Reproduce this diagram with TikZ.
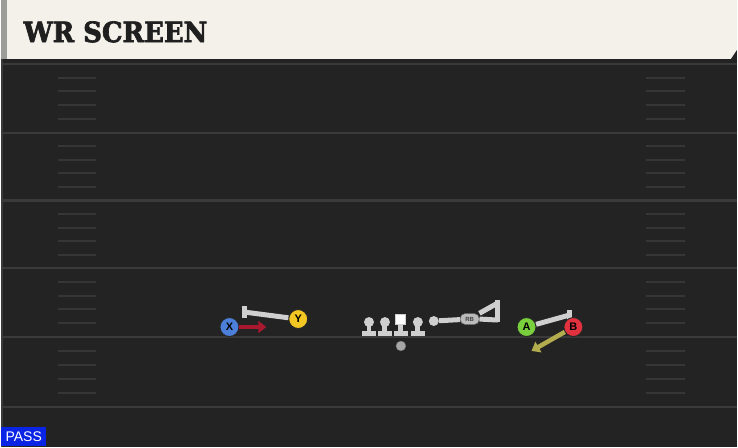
\documentclass[tikz,border=0pt]{standalone}
\usepackage{fontspec}
\setsansfont{Liberation Sans}
\newfontfamily\titlefont{DejaVu Serif}[BoldFeatures={FakeBold=2.5}]
\usetikzlibrary{arrows.meta,positioning}
\definecolor{field}{HTML}{232323}
\definecolor{fieldline}{HTML}{3A3A3A}
\definecolor{hashline}{HTML}{363636}
\definecolor{header}{HTML}{F4F1EA}
\definecolor{headeredge}{HTML}{9C9C98}
\definecolor{routegray}{HTML}{CFCFCF}
\definecolor{xblue}{HTML}{4C7FD9}
\definecolor{yyellow}{HTML}{F2C623}
\definecolor{agreen}{HTML}{79CF3C}
\definecolor{bred}{HTML}{E2323F}
\definecolor{arrowred}{HTML}{A8182E}
\definecolor{arrowolive}{HTML}{B3AC4E}
\definecolor{passblue}{HTML}{0A24E6}
\tikzset{
    yard-line/.style = {draw=fieldline, line width=2.2pt},
    hash-mark/.style = {draw=hashline, line width=2pt},
    player-circle/.style = {circle, draw=black!85, line width=0.9pt, minimum size=19pt, inner sep=0pt, font=\sffamily\bfseries\fontsize{11}{11}\selectfont},
    lineman-head/.style = {circle, fill=routegray, minimum size=10pt, inner sep=0pt},
    lineman-block/.style = {fill=routegray},
    route-line/.style = {draw=routegray, line width=5pt},
    rb-tag/.style = {rectangle, rounded corners=5pt, fill=routegray!75!gray, draw=black!60, line width=0.5pt, minimum width=19pt, minimum height=11pt, inner sep=0pt, font=\sffamily\bfseries\fontsize{6}{6}\selectfont, text=black!75},
    pass-tag/.style = {fill=passblue, text=white, inner sep=0pt, minimum width=45pt, minimum height=20pt, font=\sffamily\fontsize{14}{14}\selectfont},
}
\begin{document}
\begin{tikzpicture}[x=1pt,y=-1pt]
\fill[field] (0,0) rectangle (738,448);
\draw[fieldline, line width=2pt] (1,59) -- (1,448);
\foreach \ya/\yb in {64/133,133/201,201/269,269/338,338/408}{
    \foreach \k in {1,2,3,4}{
        \draw[hash-mark] (57,{\ya+\k*(\yb-\ya)/5}) -- (95,{\ya+\k*(\yb-\ya)/5});
        \draw[hash-mark] (647,{\ya+\k*(\yb-\ya)/5}) -- (686,{\ya+\k*(\yb-\ya)/5});
    }
}
\foreach \y in {64,133,201,269,338,408}
    \draw[yard-line] (0,\y) -- (738,\y);
\fill[headeredge] (0,0) rectangle (6,59);
\fill[header] (6,0) -- (738,0) -- (738,50) -- (732,59) -- (6,59) -- cycle;
\node[anchor=west, text=black!88, font=\titlefont\bfseries\fontsize{26}{26}\selectfont, yscale=1.08] (title) at (19,32) {WR SCREEN};
\node[pass-tag, anchor=south west] (pass) at (0,448) {PASS};

\coordinate (yend) at (244,313);
\coordinate (xend) at (266,328);
\coordinate (aend) at (570,316);
\coordinate (bend) at (532,352);
\coordinate (rbend) at (498,304);
\coordinate (rbbase) at (498,321);

\foreach \x/\n in {369/lt,385/lg,418/rg}{
    \fill[lineman-block] (\x-7,332) rectangle (\x+7,337);
    \fill[lineman-block] (\x-2.5,323) rectangle (\x+2.5,334);
    \node[lineman-head] (\n) at (\x,323) {};
}
\fill[lineman-block] (394,332) rectangle (408,337);
\fill[lineman-block] (398.5,322) rectangle (403.5,334);
\node[rectangle, fill=white, draw=routegray, line width=1pt, minimum size=10pt, inner sep=0pt] (c) at (401,320) {};
\node[circle, fill=gray!70, draw=black!60, minimum size=10pt, inner sep=0pt] (ball) at (401,347) {};

\node[lineman-head] (rt) at (434,322) {};
\node[rb-tag] (rb) at (470,320) {RB};
\draw[route-line] (rt) -- (rb);
\draw[route-line] (rb.north east) -- (rbend);
\draw[route-line] (rb.east) -- (rbbase);
\draw[route-line] ([yshift=3pt]rbend) -- ([yshift=-2pt]rbbase);

\node[player-circle, fill=yyellow] (y) at (298,320) {Y};
\draw[route-line] (y) -- (yend);
\draw[route-line] ([yshift=6pt]yend) -- ([yshift=-6pt]yend);
\node[player-circle, fill=xblue] (x) at (229,328) {X};
\draw[arrowred, line width=4.5pt, -{Triangle[length=8pt,width=12pt]}] (x) -- (xend);

\node[player-circle, fill=agreen] (a) at (527,328) {A};
\draw[route-line] (a) -- (aend);
\draw[route-line] ([yshift=5.5pt]aend) -- ([yshift=-5.5pt]aend);
\node[player-circle, fill=bred] (b) at (574,328) {B};
\draw[arrowolive, line width=4.5pt, -{Triangle[length=8pt,width=12pt]}] (b) -- (bend);
\end{tikzpicture}
\end{document}
